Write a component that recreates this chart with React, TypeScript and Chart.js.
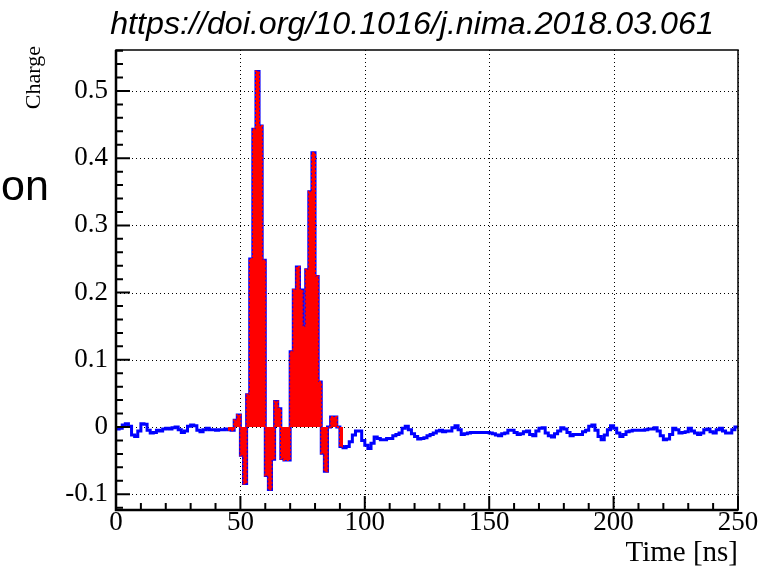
import React, { useEffect, useRef } from "react";
import { Chart, registerables } from "chart.js";

Chart.register(...registerables);

const chartTitle = "https://doi.org/10.1016/j.nima.2018.03.061";
const xAxisTitle = "Time [ns]";
const yAxisTitle = "Charge";
const sideText = "on";

const xTicks = [0, 50, 100, 150, 200, 250];
const yTicks = [-0.1, 0, 0.1, 0.2, 0.3, 0.4, 0.5];
const xMin = 0;
const xMax = 250;
const yMin = -0.1235;
const yMax = 0.561;

const binWidth = 1.25; // ns per bin

// charge per 1.25 ns bin, 0 .. 250 ns
const charge = [
  // 0 - 45 ns
  -0.003, -0.002, 0.003, 0.005, 0.001, -0.012, -0.014, -0.006, 0.005, 0.004,
  -0.005, -0.009, -0.008, -0.005, -0.006, -0.003, -0.002, -0.003, -0.001, 0.0,
  -0.004, -0.008, -0.006, 0.001, 0.003, 0.002, -0.005, -0.007, -0.004, -0.002,
  -0.004, -0.004, -0.005, -0.004, -0.004, -0.003,
  // 45 - 91.25 ns (signal)
  -0.004, -0.005, 0.01, 0.018, -0.042, -0.084, 0.048, 0.25, 0.443, 0.529,
  0.448, 0.248, -0.072, -0.093, -0.048, 0.038, 0.027, -0.047, -0.049, -0.049,
  0.112, 0.204, 0.238, 0.204, 0.149, 0.234, 0.35, 0.408, 0.224, 0.067,
  -0.039, -0.066, 0.0, 0.015, 0.015, 0.0, -0.029,
  // 91.25 - 250 ns
  -0.031, -0.029, -0.022, -0.012, -0.006, -0.006, -0.02, -0.027, -0.032, -0.024,
  -0.015, -0.017, -0.019, -0.019, -0.017, -0.017, -0.013, -0.011, -0.009, -0.002,
  0.001, -0.004, -0.01, -0.014, -0.018, -0.017, -0.016, -0.013, -0.011, -0.009,
  -0.006, -0.005, -0.007, -0.006, -0.006, -0.001, 0.002, -0.004, -0.011, -0.01,
  -0.009, -0.008, -0.008, -0.008, -0.008, -0.008, -0.008, -0.009, -0.01, -0.012,
  -0.013, -0.01, -0.009, -0.005, -0.005, -0.008, -0.011, -0.01, -0.007, -0.006,
  -0.011, -0.013, -0.006, -0.002, -0.001, -0.009, -0.013, -0.015, -0.01, -0.006,
  -0.001, -0.003, -0.008, -0.013, -0.011, -0.011, -0.011, -0.007, -0.005, 0.001,
  0.003, -0.005, -0.014, -0.019, -0.012, -0.004, 0.002, -0.002, -0.009, -0.014,
  -0.011, -0.007, -0.006, -0.005, -0.005, -0.005, -0.005, -0.004, -0.003, -0.003,
  -0.001, -0.006, -0.013, -0.019, -0.018, -0.011, -0.002, -0.004, -0.009, -0.008,
  -0.007, -0.002, -0.006, -0.009, -0.011, -0.009, -0.004, -0.003, -0.007, -0.009,
  -0.004, -0.002, -0.006, -0.009, -0.009, -0.004, 0.0,
];

const signalFirstBin = 36;
const signalLastBin = 72;

const serif = "'Liberation Serif', 'DejaVu Serif', serif";
const sans = "'Liberation Sans', Arial, sans-serif";

const rootStyle = {
  id: "rootStyle",
  beforeDatasetsDraw(chart: any) {
    const { ctx, chartArea: a, scales } = chart;
    ctx.save();
    ctx.strokeStyle = "#000";
    ctx.lineWidth = 1;
    ctx.setLineDash([1, 3]);
    ctx.beginPath();
    scales.x.ticks.forEach((t: any) => {
      const px = Math.round(scales.x.getPixelForValue(t.value)) + 0.5;
      ctx.moveTo(px, a.top);
      ctx.lineTo(px, a.bottom);
    });
    scales.y.ticks.forEach((t: any) => {
      const py = Math.round(scales.y.getPixelForValue(t.value)) + 0.5;
      ctx.moveTo(a.left, py);
      ctx.lineTo(a.right, py);
    });
    ctx.stroke();
    ctx.restore();
  },
  afterDatasetsDraw(chart: any) {
    const { ctx, chartArea: a, scales } = chart;
    const xs = scales.x;
    const ys = scales.y;
    ctx.save();
    ctx.setLineDash([]);
    ctx.strokeStyle = "#000";
    ctx.lineWidth = 1.5;
    ctx.strokeRect(a.left, a.top, a.right - a.left, a.bottom - a.top);
    ctx.lineWidth = 2.5;
    ctx.beginPath();
    ctx.moveTo(a.left, a.top);
    ctx.lineTo(a.left, a.bottom);
    ctx.lineTo(a.right, a.bottom);
    ctx.stroke();
    ctx.lineWidth = 2;
    ctx.beginPath();
    for (let k = -6; k <= 28; k++) {
      const v = k * 0.02;
      const py = ys.getPixelForValue(v);
      if (py < a.top - 0.5 || py > a.bottom + 0.5) continue;
      const len = k % 5 === 0 ? 14 : 7;
      ctx.moveTo(a.left, py);
      ctx.lineTo(a.left + len, py);
    }
    for (let k = 0; k <= 25; k++) {
      const v = k * 10;
      const px = xs.getPixelForValue(v);
      const len = k % 5 === 0 ? 14 : 7;
      ctx.moveTo(px, a.bottom);
      ctx.lineTo(px, a.bottom - len);
    }
    ctx.stroke();
    ctx.restore();
  },
  afterDraw(chart: any) {
    const { ctx, chartArea: a } = chart;
    ctx.save();
    ctx.fillStyle = "#000";
    let size = 28;
    ctx.font = `italic ${size}px ${sans}`;
    const w = ctx.measureText(chartTitle).width;
    size = (size * 604) / w;
    ctx.font = `italic ${size}px ${sans}`;
    ctx.textAlign = "center";
    ctx.textBaseline = "alphabetic";
    ctx.fillText(chartTitle, 412, 34);
    ctx.font = `29px ${serif}`;
    ctx.textAlign = "right";
    ctx.fillText(xAxisTitle, a.right, 561);
    ctx.save();
    ctx.translate(40, a.top - 4);
    ctx.rotate(-Math.PI / 2);
    ctx.font = `22px ${serif}`;
    ctx.textAlign = "right";
    ctx.fillText(yAxisTitle, 0, 0);
    ctx.restore();
    ctx.font = `43px ${sans}`;
    ctx.textAlign = "left";
    ctx.fillText(sideText, 1, 200);
    ctx.restore();
  },
};

export default function App() {
  const ref = useRef<HTMLCanvasElement | null>(null);

  useEffect(() => {
    const canvas = ref.current;
    if (!canvas) return;
    const points = charge.map((v, i) => ({ x: i * binWidth, y: v }));
    points.push({ x: charge.length * binWidth, y: charge[charge.length - 1] });
    const signalPoints = charge
      .slice(signalFirstBin, signalLastBin + 1)
      .map((v, k) => ({ x: (signalFirstBin + k) * binWidth, y: v }));
    signalPoints.push({ x: (signalLastBin + 1) * binWidth, y: charge[signalLastBin] });

    const chart = new Chart(canvas, {
      type: "line",
      data: {
        datasets: [
          {
            label: "signal",
            data: signalPoints,
            stepped: "before",
            borderColor: "#ff0000",
            borderWidth: 2,
            borderDash: [2, 2],
            backgroundColor: "#ff0000",
            fill: "origin",
            pointRadius: 0,
          },
          {
            label: "waveform",
            data: points,
            stepped: "before",
            borderColor: "#0000ff",
            borderWidth: 3,
            fill: false,
            pointRadius: 0,
          },
        ],
      },
      options: {
        responsive: false,
        animation: false,
        devicePixelRatio: 1,
        layout: { padding: { left: 0, top: 50, right: 30, bottom: 0 } },
        plugins: {
          legend: { display: false },
          tooltip: { enabled: false },
          title: { display: false },
        },
        scales: {
          x: {
            type: "linear",
            min: xMin,
            max: xMax,
            grid: { display: false, drawTicks: false },
            border: { display: false },
            ticks: {
              color: "#000",
              font: { family: serif, size: 27 },
              padding: -3,
              autoSkip: false,
              maxRotation: 0,
              callback: (v: any) => String(v),
            },
            afterBuildTicks: (s: any) => {
              s.ticks = xTicks.map((v) => ({ value: v }));
            },
            afterFit: (s: any) => {
              s.height = 56;
            },
          },
          y: {
            type: "linear",
            min: yMin,
            max: yMax,
            grid: { display: false, drawTicks: false },
            border: { display: false },
            ticks: {
              color: "#000",
              font: { family: serif, size: 27 },
              padding: 8,
              autoSkip: false,
              callback: (v: any) => String(Math.round(v * 10) / 10),
            },
            afterBuildTicks: (s: any) => {
              s.ticks = yTicks.map((v) => ({ value: v }));
            },
            afterFit: (s: any) => {
              s.width = 116;
            },
          },
        },
      },
      plugins: [rootStyle],
    });
    return () => chart.destroy();
  }, []);

  return (
    <div style={{ position: "fixed", left: 0, top: 0, width: 768, height: 566, background: "#fff" }}>
      <canvas ref={ref} width={768} height={566} style={{ display: "block", width: 768, height: 566 }} />
    </div>
  );
}
